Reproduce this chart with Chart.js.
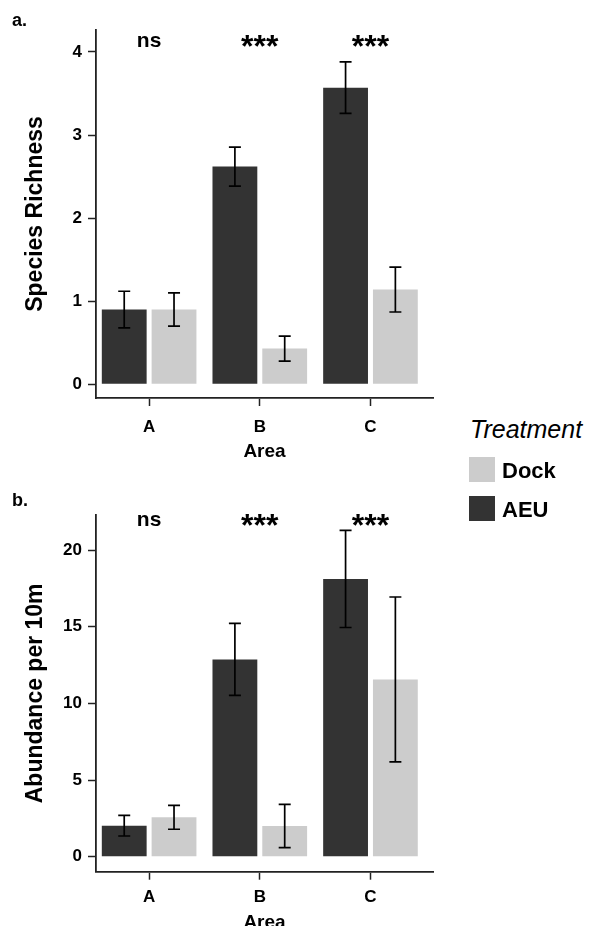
<!DOCTYPE html>
<html>
<head>
<meta charset="utf-8">
<script src="https://cdn.jsdelivr.net/npm/chart.js@4.4.1/dist/chart.umd.min.js"></script>
<style>
  body { margin: 0; background: #fff; }
  #wrap { position: relative; width: 589px; height: 926px; overflow: hidden; }
  canvas { position: absolute; left: 0; }
  .leg { position: absolute; font-family: 'Liberation Sans', Arial, Helvetica, sans-serif; color: #000; white-space: nowrap; }
  .legTitle { font-style: italic; font-size: 25px; line-height: 25px; }
  .legText { font-weight: bold; font-size: 22px; line-height: 22px; }
  .legBox { position: absolute; width: 26px; height: 25px; }
</style>
</head>
<body>
<div id="wrap">
  <canvas id="richChart" width="470" height="470" style="top:0"></canvas>
  <canvas id="abundChart" width="470" height="470" style="top:470px"></canvas>
  <div id="legend"></div>
</div>
<script>
// DATOS
const areas = ['A', 'B', 'C'];
const treatments = ['AEU', 'Dock'];
const treatmentColors = ['#333333', '#cccccc'];
const sigLabels = ['ns', '***', '***'];

// Riqueza de especies (media y error)
const richAEU = [0.90, 2.62, 3.57];
const richAEUErr = [0.22, 0.235, 0.31];
const richDock = [0.90, 0.43, 1.14];
const richDockErr = [0.20, 0.15, 0.27];
const richTicks = [0, 1, 2, 3, 4];

// Abundancia por 10m (media y error)
const abundAEU = [2.02, 12.87, 18.12];
const abundAEUErr = [0.67, 2.35, 3.17];
const abundDock = [2.57, 2.0, 11.56];
const abundDockErr = [0.78, 1.41, 5.38];
const abundTicks = [0, 5, 10, 15, 20];

const FONT = "'Liberation Sans', Arial, Helvetica, sans-serif";
Chart.defaults.font.family = FONT;
Chart.defaults.color = '#000';

// Barras de error
const errorBars = {
    id: 'errorBars',
    afterDatasetsDraw(chart) {
        const ctx = chart.ctx;
        const y = chart.scales.y;
        ctx.save();
        ctx.strokeStyle = '#000';
        ctx.lineWidth = 1.7;
        chart.data.datasets.forEach((ds, i) => {
            chart.getDatasetMeta(i).data.forEach((bar, j) => {
                const v = ds.data[j].y;
                const e = ds.errors[j];
                const top = y.getPixelForValue(v + e);
                const bot = y.getPixelForValue(v - e);
                ctx.beginPath();
                ctx.moveTo(bar.x, top); ctx.lineTo(bar.x, bot);
                ctx.moveTo(bar.x - 6, top); ctx.lineTo(bar.x + 6, top);
                ctx.moveTo(bar.x - 6, bot); ctx.lineTo(bar.x + 6, bot);
                ctx.stroke();
            });
        });
        ctx.restore();
    }
};

// Etiquetas de significancia y letra del panel
const annotations = {
    id: 'annotations',
    afterDraw(chart, args, opts) {
        const ctx = chart.ctx;
        const x = chart.scales.x;
        const y = chart.scales.y;
        ctx.save();
        ctx.fillStyle = '#000';
        ctx.textAlign = 'center';
        ctx.textBaseline = 'alphabetic';
        opts.labels.forEach((txt, i) => {
            ctx.font = (txt === 'ns' ? 'bold 21px ' : 'bold 32px ') + FONT;
            const m = ctx.measureText(txt);
            const cy = y.getPixelForValue(opts.level);
            ctx.fillText(txt, x.getPixelForValue(i + 1), cy + (m.actualBoundingBoxAscent - m.actualBoundingBoxDescent) / 2);
        });
        ctx.textAlign = 'left';
        ctx.font = 'bold 18px ' + FONT;
        ctx.fillText(opts.panel, 12, opts.panelY);
        ctx.restore();
    }
};

function makeChart(id, aeu, aeuErr, dock, dockErr, yTicks, cfg) {
    const toPoints = arr => arr.map((v, i) => ({ x: i + 1, y: v }));
    return new Chart(document.getElementById(id), {
        type: 'bar',
        data: {
            datasets: [{
                label: treatments[0],
                data: toPoints(aeu),
                errors: aeuErr,
                backgroundColor: treatmentColors[0],
                categoryPercentage: 0.9,
                barPercentage: 0.9
            }, {
                label: treatments[1],
                data: toPoints(dock),
                errors: dockErr,
                backgroundColor: treatmentColors[1],
                categoryPercentage: 0.9,
                barPercentage: 0.9
            }]
        },
        options: {
            responsive: false,
            animation: false,
            layout: { padding: { left: 0, top: cfg.padTop, right: 37, bottom: 0 } },
            plugins: {
                legend: { display: false },
                tooltip: { enabled: false },
                annotations: { labels: sigLabels, level: cfg.sigLevel, panel: cfg.panel, panelY: cfg.panelY }
            },
            scales: {
                x: {
                    type: 'linear',
                    min: 0.52,
                    max: 3.565,
                    offset: false,
                    afterBuildTicks: axis => { axis.ticks = areas.map((a, i) => ({ value: i + 1 })); },
                    afterFit: scale => { scale.height = cfg.xHeight; },
                    grid: { offset: false, drawOnChartArea: false, drawTicks: true, tickLength: 8, tickWidth: 1.5, tickColor: '#222' },
                    border: { display: true, color: '#222', width: 1.8 },
                    ticks: {
                        padding: cfg.tickPad,
                        font: { size: 17, weight: 'bold' },
                        color: '#000',
                        callback: v => areas[v - 1]
                    },
                    title: {
                        display: true,
                        text: 'Area',
                        font: { size: 19, weight: 'bold' },
                        color: '#000',
                        padding: { top: 0, bottom: cfg.titlePad }
                    }
                },
                y: {
                    min: cfg.yMin,
                    max: cfg.yMax,
                    afterBuildTicks: axis => { axis.ticks = yTicks.map(v => ({ value: v })); },
                    afterFit: scale => { scale.width = 96; },
                    grid: { drawOnChartArea: false, drawTicks: true, tickLength: 8, tickWidth: 1.5, tickColor: '#222' },
                    border: { display: true, color: '#222', width: 1.8 },
                    ticks: { padding: 6, font: { size: 17, weight: 'bold' }, color: '#000' },
                    title: {
                        display: true,
                        text: cfg.yTitle,
                        font: { size: 23, weight: 'bold' },
                        color: '#000',
                        padding: { top: 22, bottom: 0 }
                    }
                }
            }
        },
        plugins: [errorBars, annotations]
    });
}

makeChart('richChart', richAEU, richAEUErr, richDock, richDockErr, richTicks, {
    padTop: 30, xHeight: 72, tickPad: 10.8, titlePad: 6.8,
    yMin: -0.165, yMax: 4.264, yTitle: 'Species Richness',
    sigLevel: 4.13, panel: 'a.', panelY: 26
});

makeChart('abundChart', abundAEU, abundAEUErr, abundDock, abundDockErr, abundTicks, {
    padTop: 45, xHeight: 68.3, tickPad: 7.8, titlePad: 5.6,
    yMin: -0.98, yMax: 22.29, yTitle: 'Abundance per 10m',
    sigLevel: 21.96, panel: 'b.', panelY: 36
});

// Leyenda (Dock primero, luego AEU)
const legendOrder = [1, 0];
let html = '<div class="leg legTitle" style="left:470px;top:417px">Treatment</div>';
legendOrder.forEach((k, n) => {
    const top = 457 + n * 39;
    html += `<div class="legBox" style="left:469px;top:${top}px;background:${treatmentColors[k]}"></div>`;
    html += `<div class="leg legText" style="left:502px;top:${top + 3}px">${treatments[k]}</div>`;
});
document.getElementById('legend').innerHTML = html;
</script>
</body>
</html>
